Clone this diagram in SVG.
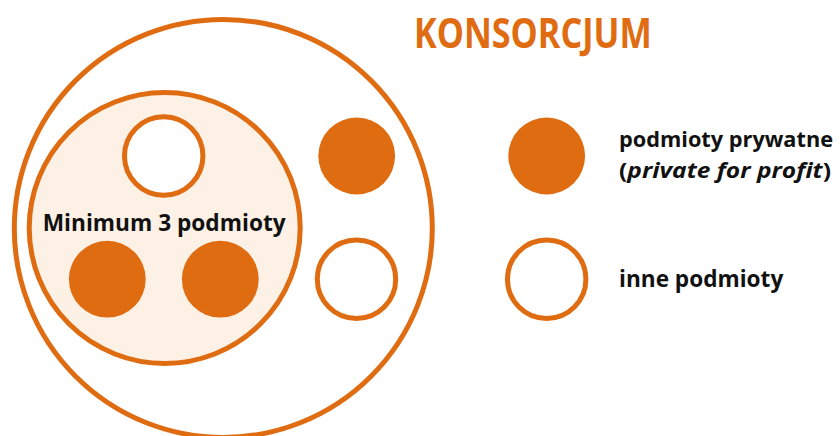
<svg xmlns="http://www.w3.org/2000/svg" width="840" height="436" viewBox="0 0 840 436">
<style>
.ring{fill:none;stroke:#e06c12;stroke-width:5}
.hollow{fill:#fff;stroke:#e06c12;stroke-width:5}
.solid{fill:#e06c12}
.lbl{font-family:"Open Sans","Liberation Sans",sans-serif;font-weight:bold;font-size:23px;fill:#111}
.sm{font-size:22px}
.title{font-family:"Open Sans","Liberation Sans",sans-serif;font-weight:bold;font-size:41px;fill:#e06c12}
</style>
<rect width="840" height="436" fill="#fff"/>
<g id="konsorcjum">
<circle class="ring" cx="223.3" cy="228.4" r="209"/>
<text class="title" x="414" y="48.3" textLength="237.7" lengthAdjust="spacingAndGlyphs">KONSORCJUM</text>
</g>
<g id="minimum">
<circle cx="164.7" cy="228" r="135.5" fill="#fdf0e5" stroke="#e06c12" stroke-width="5"/>
<text class="lbl" x="42.7" y="230.7" textLength="243" lengthAdjust="spacingAndGlyphs">Minimum 3 podmioty</text>
</g>
<g id="inner-hollow"><circle class="hollow" cx="163.7" cy="156" r="39.2"/></g>
<g id="inner-solid-1"><circle class="solid" cx="107.3" cy="279.2" r="38.4"/></g>
<g id="inner-solid-2"><circle class="solid" cx="220.3" cy="279.2" r="38.4"/></g>
<g id="outer-solid"><circle class="solid" cx="356.7" cy="156" r="38.4"/></g>
<g id="outer-hollow"><circle class="hollow" cx="356.5" cy="279.2" r="39.2"/></g>
<g id="legend-private">
<circle class="solid" cx="546.7" cy="156" r="38.4"/>
<text class="lbl sm" x="619" y="146.7" textLength="214" lengthAdjust="spacingAndGlyphs">podmioty prywatne</text>
<text class="lbl sm" x="619" y="177.7" textLength="212" lengthAdjust="spacingAndGlyphs">(<tspan font-style="italic">private for profit</tspan>)</text>
</g>
<g id="legend-other">
<circle class="hollow" cx="546.7" cy="279.2" r="39.2"/>
<text class="lbl" x="619" y="286.7" textLength="164.3" lengthAdjust="spacingAndGlyphs">inne podmioty</text>
</g>
<g id="connectors"/>
</svg>
